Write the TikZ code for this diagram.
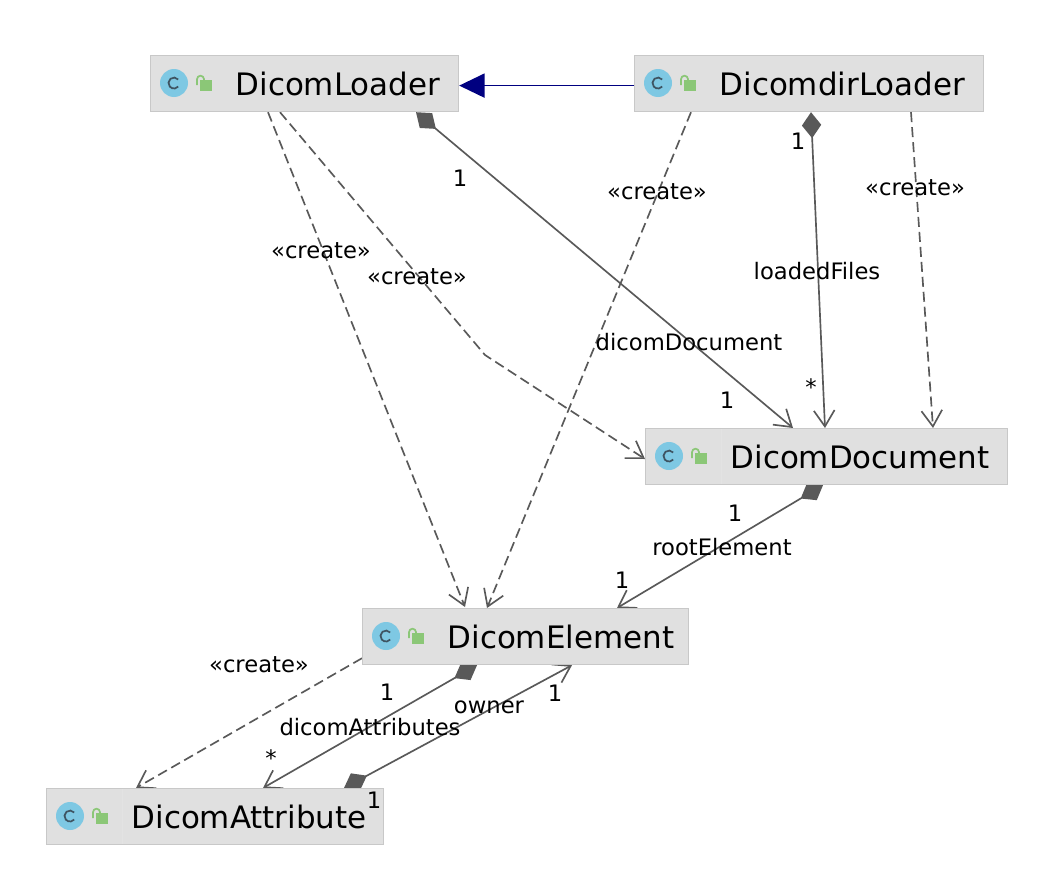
\documentclass[tikz,border=0pt]{standalone}
\usepackage{fontspec}
\setmainfont{DejaVu Sans}
\usetikzlibrary{arrows.meta,backgrounds}
\definecolor{boxfill}{RGB}{224,224,224}
\definecolor{boxline}{RGB}{200,200,200}
\definecolor{linkgray}{RGB}{89,89,89}
\definecolor{iconblue}{RGB}{126,200,227}
\definecolor{icondark}{RGB}{62,84,98}
\definecolor{lockgreen}{RGB}{139,199,119}
\tikzset{
  classbox/.style={draw=boxline,fill=boxfill,line width=0.9pt,anchor=north west,inner xsep=0pt,inner ysep=0pt,
    text width=#1,minimum height=42pt,text height=18pt,text depth=0pt,align=left,font=\fontsize{23.2}{28}\selectfont,
    execute at begin node={\hspace*{63.75pt}}},
  lbl/.style={inner sep=0pt,font=\fontsize{17}{20}\selectfont},
  dep/.style={draw=linkgray,line width=1.25pt,dash pattern=on 7.5pt off 3.75pt,-{Straight Barb[length=12pt,width=15.5pt,line width=1.25pt,sep=0pt]}},
  comp/.style={draw=linkgray,line width=1.25pt,{Kite[length=19.5pt,width=14.5pt,inset=9.75pt,fill=linkgray,sep=0pt]}-{Straight Barb[length=12pt,width=15.5pt,line width=1.25pt]}},
  inherit/.style={draw={rgb,255:red,0;green,0;blue,128},line width=1.3pt,-{Triangle[length=19pt,width=18pt]}},
}
\begin{document}
\begin{tikzpicture}[x=0.75pt,y=0.75pt,yscale=-1,xscale=1]
\useasboundingbox (0,0) rectangle (1047,885);
% classes
\node [classbox=231pt] (loader) at (150,55) {DicomLoader};
\node [classbox=261.75pt] (dirloader) at (634,55) {DicomdirLoader};
\node [classbox=271.5pt] (document) at (645,428) {DicomDocument};
\node [classbox=244.5pt] (element) at (362,608) {DicomElement};
\node [classbox=252.75pt] (attribute) at (46,788) {DicomAttribute};
% icons
\foreach \cls in {document,attribute}
  \draw [color=boxfill!90!white] ([shift={(76,1)}]\cls.north west) -- ([shift={(76,-1)}]\cls.south west);
\foreach \cls in {loader,dirloader,document,element,attribute} {
  \fill [iconblue] ([shift={(24,28)}]\cls.north west) circle (14);
  \draw [icondark,line width=1.3pt] ([shift={(28.2,24.5)}]\cls.north west) arc (-40:-320:5.5);
  \fill [lockgreen] ([shift={(50,25)}]\cls.north west) rectangle ([shift={(62,36)}]\cls.north west);
  \draw [lockgreen,line width=1.3pt] ([shift={(47,30)}]\cls.north west) -- ([shift={(47,24.2)}]\cls.north west) arc (180:360:3.5) -- ([shift={(54,26)}]\cls.north west);
}
\coordinate (bend) at (485,355);
% links, under the boxes
\begin{pgfonlayer}{background}
\draw [inherit] ([shift={(0,2)}]dirloader.west) -- ([shift={(0,2)}]loader.east);
\draw [dep] ([shift={(118,0)}]loader.south west) -- ([shift={(103,-1)}]element.north west);
\draw [dep] ([shift={(130,0)}]loader.south west) -- (bend) -- ([shift={(0,31)}]document.north west);
\draw [comp] ([shift={(266,0)}]loader.south west) -- ([shift={(148,0)}]document.north west);
\draw [dep] ([shift={(57,0)}]dirloader.south west) -- ([shift={(125,0)}]element.north west);
\draw [comp] ([shift={(177,0)}]dirloader.south west) -- ([shift={(180,0)}]document.north west);
\draw [dep] ([shift={(277,0)}]dirloader.south west) -- ([shift={(288,0)}]document.north west);
\draw [comp] ([shift={(178,0)}]document.south west) -- ([shift={(255,0)}]element.north west);
\draw [dep] ([shift={(0,-7)}]element.south west) -- ([shift={(90,0)}]attribute.north west);
\draw [comp] ([shift={(115,0)}]element.south west) -- ([shift={(217,0)}]attribute.north west);
\draw [comp] ([shift={(298,0)}]attribute.north west) -- ([shift={(210,0)}]element.south west);
\end{pgfonlayer}
% labels
\node [lbl] (create1) at (321,251) {«create»};
\node [lbl] (create2) at (417,277) {«create»};
\node [lbl] (create3) at (657,192) {«create»};
\node [lbl] (create4) at (915,188) {«create»};
\node [lbl] (create5) at (259,665) {«create»};
\node [lbl] (one1) at (460,178) {1};
\node [lbl] (docname) at (689,342) {dicomDocument};
\node [lbl] (one2) at (727,400) {1};
\node [lbl] (one3) at (798,141) {1};
\node [lbl] (filesname) at (817,271) {loadedFiles};
\node [lbl] (many1) at (811,387) {*};
\node [lbl] (one4) at (735,513) {1};
\node [lbl] (rootname) at (722,547) {rootElement};
\node [lbl] (one5) at (622,580) {1};
\node [lbl] (one6) at (387,692) {1};
\node [lbl] (attrname) at (370,727) {dicomAttributes};
\node [lbl] (many2) at (271,758) {*};
\node [lbl] (ownername) at (489,707) {owner};
\node [lbl] (one7) at (555,693) {1};
\node [lbl] (one8) at (374,800) {1};
\end{tikzpicture}
\end{document}
